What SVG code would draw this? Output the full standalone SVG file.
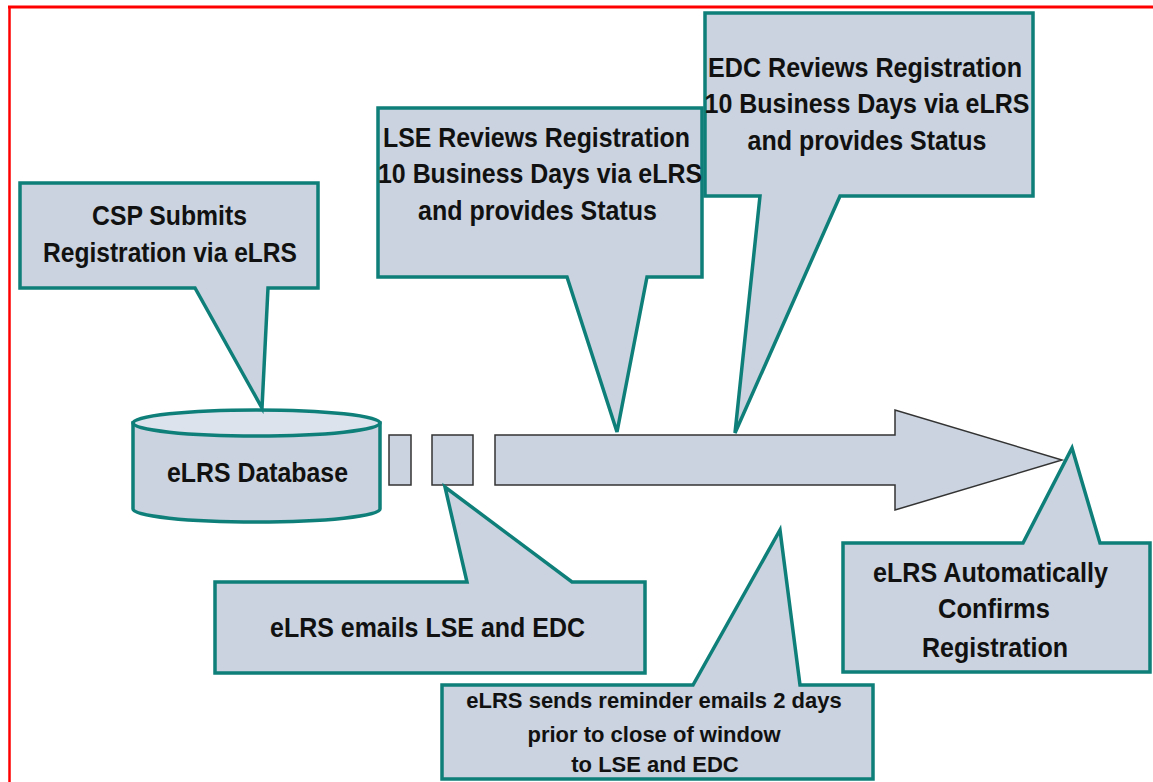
<svg xmlns="http://www.w3.org/2000/svg" width="1153" height="782" viewBox="0 0 1153 782">
<style>
.bg{fill:#ffffff}
.frame{stroke:#ff0000;fill:none}
.callout{fill:#cad3df;stroke:#0f7f7a;stroke-width:3.5;stroke-linejoin:miter}
.cyl{fill:#cad3df;stroke:#0f7f7a;stroke-width:3.5}
.cyltop{fill:#dde3ec;stroke:#0f7f7a;stroke-width:3.5}
.flow{fill:#cad3df;stroke:#333333;stroke-width:1.5}
.t{font-family:"Liberation Sans",Arial,sans-serif;font-weight:bold;font-size:28px;fill:#111111;text-anchor:middle}
.s{font-family:"Liberation Sans",Arial,sans-serif;font-weight:bold;font-size:22px;fill:#111111;text-anchor:middle}
</style>
<rect class="bg" x="0" y="0" width="1153" height="782"/>
<g id="frame">
<line class="frame" x1="8" y1="7" x2="1153" y2="7" stroke-width="3"/>
<line class="frame" x1="9.5" y1="6" x2="9.5" y2="782" stroke-width="2.5"/>
</g>
<g id="connectors">
<rect class="flow" x="389" y="435" width="22" height="50"/>
<rect class="flow" x="432" y="435" width="41" height="50"/>
<polygon class="flow" points="495,435 895,435 895,410 1062,460 895,510 895,485 495,485"/>
</g>
<g id="database">
<path class="cyl" d="M133,423 V509 A123.5,13 0 0 0 380,509 V423 Z"/>
<ellipse class="cyltop" cx="256.5" cy="423" rx="123.5" ry="13"/>
<text class="t" x="257.5" y="482" textLength="181" lengthAdjust="spacingAndGlyphs">eLRS Database</text>
</g>
<g id="csp-submits">
<path class="callout" d="M20,183 H318 V288 H268 L262,408 L195,288 H20 Z"/>
<text class="t" x="169.5" y="225" textLength="155" lengthAdjust="spacingAndGlyphs">CSP Submits</text>
<text class="t" x="170" y="262" textLength="254" lengthAdjust="spacingAndGlyphs">Registration via eLRS</text>
</g>
<g id="lse-reviews">
<path class="callout" d="M378,108 H702 V277 H647 L617,432 L567,277 H378 Z"/>
<text class="t" x="536.5" y="147" textLength="307" lengthAdjust="spacingAndGlyphs">LSE Reviews Registration</text>
<text class="t" x="540" y="183" textLength="324" lengthAdjust="spacingAndGlyphs">10 Business Days via eLRS</text>
<text class="t" x="537.5" y="220" textLength="239" lengthAdjust="spacingAndGlyphs">and provides Status</text>
</g>
<g id="edc-reviews">
<path class="callout" d="M705,13 H1033 V196 H840 L735,433 L760,196 H705 Z"/>
<text class="t" x="865" y="77" textLength="314" lengthAdjust="spacingAndGlyphs">EDC Reviews Registration</text>
<text class="t" x="867" y="113" textLength="325" lengthAdjust="spacingAndGlyphs">10 Business Days via eLRS</text>
<text class="t" x="867" y="150" textLength="239" lengthAdjust="spacingAndGlyphs">and provides Status</text>
</g>
<g id="emails">
<path class="callout" d="M215,582 H467 L445,487 L572,582 H645 V673 H215 Z"/>
<text class="t" x="427.5" y="637" textLength="315" lengthAdjust="spacingAndGlyphs">eLRS emails LSE and EDC</text>
</g>
<g id="reminder">
<path class="callout" d="M442,685 H693 L780,530 L800,685 H873 V779 H442 Z"/>
<text class="s" x="654" y="708">eLRS sends reminder emails 2 days</text>
<text class="s" x="654" y="742">prior to close of window</text>
<text class="s" x="655" y="772">to LSE and EDC</text>
</g>
<g id="confirms">
<path class="callout" d="M843,543 H1023 L1072,448 L1100,543 H1150 V672 H843 Z"/>
<text class="t" x="990.5" y="582" textLength="235" lengthAdjust="spacingAndGlyphs">eLRS Automatically</text>
<text class="t" x="994" y="618" textLength="112" lengthAdjust="spacingAndGlyphs">Confirms</text>
<text class="t" x="995" y="657" textLength="146" lengthAdjust="spacingAndGlyphs">Registration</text>
</g>
</svg>
